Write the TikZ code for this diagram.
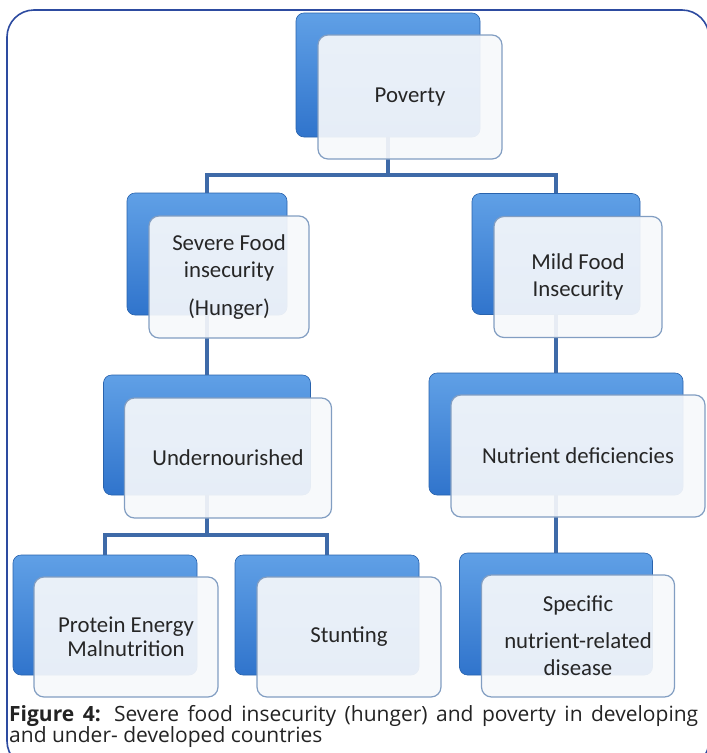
\documentclass[tikz,border=0pt]{standalone}
\usepackage{fontspec}
\setmainfont{Carlito}
\newfontfamily\capfont{Open Sans}

% colori
\definecolor{framecol}{RGB}{45,75,160}
\definecolor{linecol}{RGB}{62,106,168}
\definecolor{boxtop}{RGB}{96,160,230}
\definecolor{boxbot}{RGB}{48,116,204}
\definecolor{frontfill}{RGB}{246,248,251}
\definecolor{frontedge}{RGB}{130,158,194}
\definecolor{captext}{RGB}{35,35,35}

\tikzset{
  backbox/.style={rectangle, rounded corners=8pt, top color=boxtop, bottom color=boxbot,
    draw=boxbot!85!black, line width=0.6pt, inner sep=0pt},
  frontbox/.style={rectangle, rounded corners=10pt, fill=frontfill, fill opacity=0.92,
    text opacity=1, draw=frontedge, line width=1.2pt, align=center, inner sep=0pt,
    font=\fontsize{22.8}{27}\selectfont, text=black!85},
  conn/.style={draw=linecol, line width=3.2pt}
}

\begin{document}
\begin{tikzpicture}[x=1pt, y=-1pt]

    \useasboundingbox (0,0) rectangle (707,753);

    % Cornice
    \draw[framecol, line width=1.6pt, rounded corners=27pt] (7,10) rectangle (709,768);

    % Riquadri blu (dietro)
    \node[backbox, minimum width=184pt, minimum height=124pt] (povB) at (388,75) {};
    \node[backbox, minimum width=160pt, minimum height=122pt] (sevB) at (207,254) {};
    \node[backbox, minimum width=168pt, minimum height=121pt] (mildB) at (556,254) {};
    \node[backbox, minimum width=207pt, minimum height=120pt] (undB) at (207,435) {};
    \node[backbox, minimum width=254pt, minimum height=122pt] (nutB) at (556,434) {};
    \node[backbox, minimum width=184pt, minimum height=120pt] (protB) at (105,615) {};
    \node[backbox, minimum width=184pt, minimum height=120pt] (stuntB) at (327,615) {};
    \node[backbox, minimum width=193pt, minimum height=122pt] (specB) at (556,614) {};

    % Collegamenti
    \coordinate (bar1) at (388,175);
    \coordinate (bar2) at (207,535);
    \draw[conn] (povB.south) -- (bar1);
    \draw[conn] (sevB.north) |- (bar1) -| (mildB.north);
    \draw[conn] (sevB.south) -- (undB.north);
    \draw[conn] (mildB.south) -- (nutB.north);
    \draw[conn] (nutB.south) -- (specB.north);
    \draw[conn] (undB.south) -- (bar2);
    \draw[conn] (protB.north) |- (bar2) -| (stuntB.north);

    % Riquadri chiari (davanti)
    \node[frontbox, minimum width=184pt, minimum height=124pt] (pov) at (410,97) {Poverty};
    \node[frontbox, minimum width=160pt, minimum height=122pt] (sev) at (229,277) {Severe Food\\insecurity\\[11pt](Hunger)};
    \node[frontbox, minimum width=168pt, minimum height=121pt] (mild) at (578,277) {Mild Food\\Insecurity};
    \node[frontbox, minimum width=207pt, minimum height=120pt] (und) at (228,458) {Undernourished};
    \node[frontbox, minimum width=254pt, minimum height=122pt] (nut) at (578,456) {Nutrient deficiencies};
    \node[frontbox, minimum width=184pt, minimum height=120pt] (prot) at (126,637) {Protein Energy\\[-3pt]Malnutrition};
    \node[frontbox, minimum width=184pt, minimum height=120pt] (stunt) at (349,637) {Stunting};
    \node[frontbox, minimum width=193pt, minimum height=122pt] (spec) at (578,636) {Specific\\[10pt]nutrient-related\\disease};

    % Didascalia
    \node[anchor=north west, inner sep=0pt, text width=689pt, align=justify, text=captext,
      font=\capfont\fontsize{21}{21.5}\selectfont] (cap) at (9,705)
      {\textbf{Figure 4:} Severe food insecurity (hunger) and poverty in developing\linebreak and under- developed countries};

\end{tikzpicture}
\end{document}
